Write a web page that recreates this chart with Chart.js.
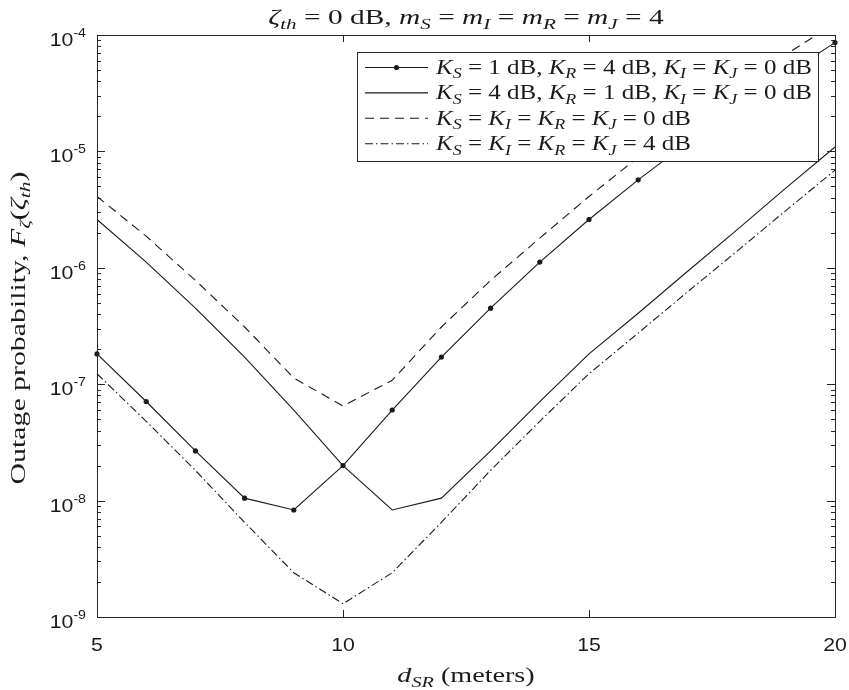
<!DOCTYPE html>
<html>
<head>
<meta charset="utf-8">
<title>Outage probability vs d_SR</title>
<script src="https://cdn.jsdelivr.net/npm/chart.js@4.4.0/dist/chart.umd.min.js"></script>
<style>
  html, body { margin: 0; padding: 0; background: #fff; }
  #wrap { width: 849px; height: 690px; }
</style>
</head>
<body>
<div id="wrap"><canvas id="outage" width="849" height="690"></canvas></div>
<script>
// distance S-R in meters
const dSR = [5, 6, 7, 8, 9, 10, 11, 12, 13, 14, 15, 16, 17, 18, 19, 20];

// outage probability per curve
const ks1kr4 = [1.82e-7, 7.1e-8, 2.67e-8, 1.05e-8, 8.3e-9, 2.0e-8, 6.0e-8, 1.71e-7,
                4.5e-7, 1.12e-6, 2.6e-6, 5.7e-6, 1.19e-5, 2.38e-5, 4.58e-5, 8.6e-5];
const ks4kr1 = [2.6e-6, 1.12e-6, 4.5e-7, 1.71e-7, 6.0e-8, 2.0e-8, 8.3e-9, 1.05e-8,
                2.67e-8, 7.1e-8, 1.82e-7, 4.07e-7, 9.3e-7, 2.11e-6, 4.84e-6, 1.09e-5];
const allK0 = [4.1e-6, 1.87e-6, 7.8e-7, 3.1e-7, 1.13e-7, 6.5e-8, 1.08e-7, 3.1e-7,
               7.8e-7, 1.8e-6, 4.1e-6, 8.9e-6, 1.82e-5, 3.6e-5, 6.8e-5, 1.26e-4];
const allK4 = [1.23e-7, 4.8e-8, 1.82e-8, 6.5e-9, 2.4e-9, 1.3e-9, 2.4e-9, 6.5e-9,
               1.82e-8, 4.8e-8, 1.23e-7, 2.75e-7, 6.2e-7, 1.38e-6, 3.1e-6, 6.9e-6];

const xTicks = [5, 10, 15, 20];
const yExps = [-9, -8, -7, -6, -5, -4];

// rich text: [text, style]  r = roman, i = italic, si/sr = subscript italic/roman
const titleText = [['ζ', 'i'], ['th', 'si'], [' = 0 dB, ', 'r'], ['m', 'i'], ['S', 'si'], [' = ', 'r'],
  ['m', 'i'], ['I', 'si'], [' = ', 'r'], ['m', 'i'], ['R', 'si'], [' = ', 'r'], ['m', 'i'], ['J', 'si'], [' = 4', 'r']];
const xTitle = [['d', 'i'], ['SR', 'si'], [' (meters)', 'r']];
const yTitle = [['Outage probability, ', 'r'], ['F', 'i'], ['ζ', 'si'], ['(', 'r'], ['ζ', 'i'], ['th', 'si'], [')', 'r']];
const legendText = [
  [['K', 'i'], ['S', 'si'], [' = 1 dB, ', 'r'], ['K', 'i'], ['R', 'si'], [' = 4 dB, ', 'r'], ['K', 'i'], ['I', 'si'], [' = ', 'r'], ['K', 'i'], ['J', 'si'], [' = 0 dB', 'r']],
  [['K', 'i'], ['S', 'si'], [' = 4 dB, ', 'r'], ['K', 'i'], ['R', 'si'], [' = 1 dB, ', 'r'], ['K', 'i'], ['I', 'si'], [' = ', 'r'], ['K', 'i'], ['J', 'si'], [' = 0 dB', 'r']],
  [['K', 'i'], ['S', 'si'], [' = ', 'r'], ['K', 'i'], ['I', 'si'], [' = ', 'r'], ['K', 'i'], ['R', 'si'], [' = ', 'r'], ['K', 'i'], ['J', 'si'], [' = 0 dB', 'r']],
  [['K', 'i'], ['S', 'si'], [' = ', 'r'], ['K', 'i'], ['I', 'si'], [' = ', 'r'], ['K', 'i'], ['R', 'si'], [' = ', 'r'], ['K', 'i'], ['J', 'si'], [' = 4 dB', 'r']]
];

const SERIF = '"Liberation Serif", "DejaVu Serif", serif';
const SANS = '"Liberation Sans", Arial, sans-serif';
const INK = '#1a1a1a';

function segFont(style, size) {
  const sub = style[0] === 's';
  const px = sub ? size * 0.72 : size;
  const it = style.endsWith('i') ? 'italic ' : '';
  return it + px.toFixed(1) + 'px ' + SERIF;
}

function richWidth(ctx, segs, size) {
  let w = 0;
  for (const [t, s] of segs) { ctx.font = segFont(s, size); w += ctx.measureText(t).width; }
  return w;
}

// draws rich text with its baseline at (x, y); align = 'left' | 'center'
function drawRich(ctx, segs, x, y, size, align, sx) {
  sx = sx || 1;
  ctx.save();
  ctx.translate(x, y);
  ctx.scale(sx, 1);
  let cx = align === 'center' ? -richWidth(ctx, segs, size) / 2 : 0;
  ctx.textBaseline = 'alphabetic';
  ctx.textAlign = 'left';
  ctx.fillStyle = INK;
  for (const [t, s] of segs) {
    ctx.font = segFont(s, size);
    const dy = s[0] === 's' ? size * 0.22 : 0;
    ctx.fillText(t, cx, dy);
    cx += ctx.measureText(t).width;
  }
  ctx.restore();
}

const series = [
  { label: 'KS=1 KR=4', values: ks1kr4, dash: [], marker: 2.6 },
  { label: 'KS=4 KR=1', values: ks4kr1, dash: [], marker: 0 },
  { label: 'all K 0 dB', values: allK0, dash: [9, 6], marker: 0 },
  { label: 'all K 4 dB', values: allK4, dash: [8, 3, 1.5, 3], marker: 0 }
];

const frame = {
  id: 'frame',
  afterDraw(chart) {
    const { ctx, chartArea: a, scales: { x, y } } = chart;
    ctx.save();
    ctx.strokeStyle = '#262626';
    ctx.lineWidth = 1;

    // axes box
    ctx.strokeRect(Math.round(a.left) + 0.5, Math.round(a.top) + 0.5,
      Math.round(a.right - a.left), Math.round(a.bottom - a.top));

    // x ticks, pointing inward on bottom and top
    ctx.beginPath();
    for (const v of xTicks) {
      const px = Math.round(x.getPixelForValue(v)) + 0.5;
      ctx.moveTo(px, a.bottom); ctx.lineTo(px, a.bottom - 7);
      ctx.moveTo(px, a.top); ctx.lineTo(px, a.top + 7);
    }
    // y ticks: decades long, 2..9 short
    for (const e of yExps) {
      for (let m = 1; m <= 9; m++) {
        if (e === yExps[yExps.length - 1] && m > 1) break;
        const py = Math.round(y.getPixelForValue(m * Math.pow(10, e))) + 0.5;
        const len = m === 1 ? 8 : 4;
        ctx.moveTo(a.left, py); ctx.lineTo(a.left + len, py);
        ctx.moveTo(a.right, py); ctx.lineTo(a.right - len, py);
      }
    }
    ctx.stroke();

    // tick labels
    ctx.fillStyle = INK;
    ctx.textBaseline = 'alphabetic';
    for (const v of xTicks) {
      const px = x.getPixelForValue(v);
      ctx.save();
      ctx.translate(px, a.bottom + 34);
      ctx.scale(1.18, 1);
      ctx.font = '18px ' + SANS;
      ctx.textAlign = 'center';
      ctx.fillText(String(v), 0, 0);
      ctx.restore();
    }
    for (const e of yExps) {
      const py = y.getPixelForValue(Math.pow(10, e));
      ctx.save();
      ctx.translate(a.left - 11, py + 11);
      ctx.scale(1.18, 1);
      ctx.font = '12px ' + SANS;
      const ew = ctx.measureText(String(e)).width;
      ctx.textAlign = 'right';
      ctx.fillText(String(e), 0, -9);
      ctx.font = '18px ' + SANS;
      ctx.fillText('10', -ew, 0);
      ctx.restore();
    }

    // titles
    const midX = (a.left + a.right) / 2;
    drawRich(ctx, titleText, midX, 24, 21, 'center', 1.4);
    drawRich(ctx, xTitle, midX, a.bottom + 65, 21, 'center', 1.34);
    ctx.save();
    ctx.translate(25, (a.top + a.bottom) / 2 + 2);
    ctx.rotate(-Math.PI / 2);
    drawRich(ctx, yTitle, 0, 0, 21, 'center', 1.42);
    ctx.restore();

    // legend
    const lx = 357, ly = 52, lw = 461, lh = 109;
    ctx.fillStyle = '#fff';
    ctx.fillRect(lx, ly, lw, lh);
    ctx.strokeStyle = '#262626';
    ctx.strokeRect(lx + 0.5, ly + 0.5, lw, lh);
    chart.data.datasets.forEach((ds, i) => {
      const cy = ly + 15.5 + i * 25.4;
      ctx.strokeStyle = ds.borderColor;
      ctx.lineWidth = ds.borderWidth;
      ctx.setLineDash(ds.borderDash);
      ctx.beginPath();
      ctx.moveTo(365, cy); ctx.lineTo(428, cy);
      ctx.stroke();
      ctx.setLineDash([]);
      if (ds.pointRadius > 0) {
        ctx.fillStyle = ds.pointBackgroundColor;
        ctx.beginPath();
        ctx.arc(396.5, cy, ds.pointRadius, 0, Math.PI * 2);
        ctx.fill();
      }
      drawRich(ctx, legendText[i], 436, cy + 6.5, 20, 'left', 1.25);
    });
    ctx.restore();
  }
};

new Chart(document.getElementById('outage'), {
  type: 'line',
  data: {
    datasets: series.map(s => ({
      label: s.label,
      data: dSR.map((d, i) => ({ x: d, y: s.values[i] })),
      borderColor: INK,
      borderWidth: 1.1,
      borderDash: s.dash,
      pointRadius: s.marker,
      pointBackgroundColor: INK,
      pointBorderWidth: 0,
      pointHoverRadius: s.marker,
      tension: 0,
      fill: false,
      clip: { left: 4, right: 4, top: 0, bottom: 0 }
    }))
  },
  plugins: [frame],
  options: {
    responsive: false,
    animation: false,
    events: [],
    layout: { padding: { left: 97, top: 35, right: 14, bottom: 73 } },
    plugins: {
      legend: { display: false },
      title: { display: false },
      tooltip: { enabled: false }
    },
    scales: {
      x: { type: 'linear', min: 5, max: 20, display: false },
      y: { type: 'logarithmic', min: 1e-9, max: 1e-4, display: false }
    }
  }
});
</script>
</body>
</html>
